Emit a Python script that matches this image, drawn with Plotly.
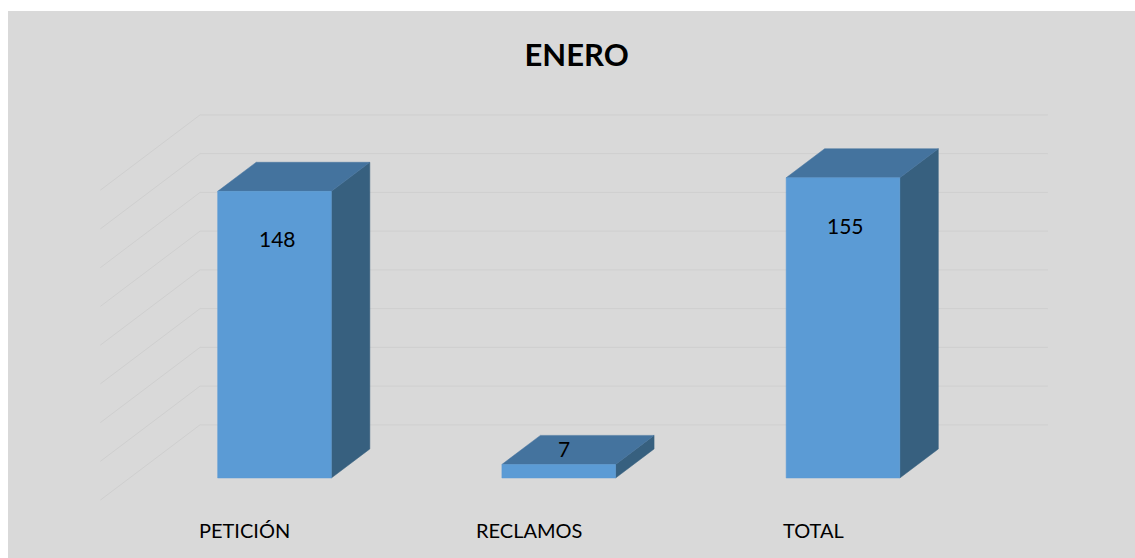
import plotly.graph_objects as go

# ---- data ----
categories = ["PETICIÓN", "RECLAMOS", "TOTAL"]
values = [148, 7, 155]
title_text = "ENERO"
grid_values = [0, 20, 40, 60, 80, 100, 120, 140, 160]

# ---- style / geometry (axis units) ----
BG = "#D9D9D9"
FRONT = "#5B9BD5"
TOP = "#44739E"
SIDE = "#37607F"
GRID = "#CFCFCF"
FONT = "Lato"

W = 0.40          # bar width (x units)
DX = 0.1354       # depth step x (x units per bar depth)
DY = 15.0         # depth step y (value units per bar depth)
WALL_D = 1.83     # back wall depth (in bar depths)
FRONT_D = -0.76   # front edge of floor (in bar depths)
WALL_X0 = -0.262  # back-wall left edge (x units)
WALL_X1 = 2.721   # back-wall right edge
LABEL_DX = -0.105 # category label offset
LABEL_Y = -26.8

fig = go.Figure()

# gridlines: back wall + left side wall
for g in grid_values:
    yb = g + WALL_D * DY
    xs_front = WALL_X0 - (WALL_D - FRONT_D) * DX
    ys_front = g + FRONT_D * DY
    fig.add_trace(go.Scatter(
        x=[xs_front, WALL_X0, WALL_X1], y=[ys_front, yb, yb],
        mode="lines", line=dict(color=GRID, width=1),
        hoverinfo="skip", showlegend=False))

# 3D bars
for i, v in enumerate(values):
    x0, x1 = i - W / 2, i + W / 2
    # side face
    fig.add_trace(go.Scatter(
        x=[x1, x1 + DX, x1 + DX, x1, x1], y=[0, DY, v + DY, v, 0],
        fill="toself", fillcolor=SIDE, mode="lines",
        line=dict(color=SIDE, width=0.5), hoverinfo="skip", showlegend=False))
    # top face
    fig.add_trace(go.Scatter(
        x=[x0, x1, x1 + DX, x0 + DX, x0], y=[v, v, v + DY, v + DY, v],
        fill="toself", fillcolor=TOP, mode="lines",
        line=dict(color=TOP, width=0.5), hoverinfo="skip", showlegend=False))
    # front face
    fig.add_trace(go.Scatter(
        x=[x0, x1, x1, x0, x0], y=[0, 0, v, v, 0],
        fill="toself", fillcolor=FRONT, mode="lines",
        line=dict(color=FRONT, width=0.5), name=categories[i],
        hovertemplate=f"{categories[i]}: {v}<extra></extra>", showlegend=False))
    # value label
    if v > 30:
        lx, ly = i + 0.01, v - 24.5
    else:
        lx, ly = i + 0.018, v + 8
    fig.add_annotation(x=lx, y=ly, text=str(v), showarrow=False,
                       xanchor="center", yanchor="middle",
                       font=dict(family=FONT, size=21, color="#000000"))
    # category label
    fig.add_annotation(x=i + LABEL_DX, y=LABEL_Y, text=categories[i],
                       showarrow=False, xanchor="center", yanchor="middle",
                       font=dict(family=FONT, size=20, color="#000000"))

fig.update_layout(
    width=1135, height=558,
    margin=dict(l=8, r=0, t=11, b=0),
    paper_bgcolor="white", plot_bgcolor=BG,
    title=dict(text=f"<b>{title_text}</b>", x=0.508, xanchor="center",
               y=0.901, yanchor="middle",
               font=dict(family=FONT, size=31, color="#000000")),
    xaxis=dict(range=[-0.9376, 3.0273], visible=False, fixedrange=True),
    yaxis=dict(range=[-41.3, 241.1], visible=False, fixedrange=True),
    showlegend=False,
)

fig.write_html("out.html")
